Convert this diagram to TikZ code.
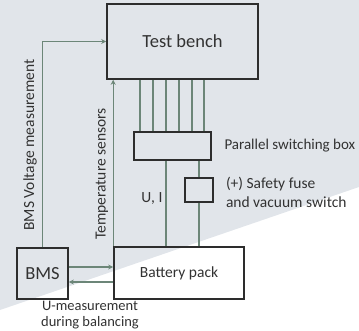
\documentclass[tikz,border=0pt]{standalone}
\usepackage{fontspec}
\setmainfont{Carlito}
\usepackage{xcolor}
\usetikzlibrary{arrows.meta, positioning}
\definecolor{bgshade}{RGB}{225,229,234}
\definecolor{wirecol}{RGB}{108,134,120}
\definecolor{boxcol}{RGB}{45,45,45}
\definecolor{txtcol}{RGB}{50,50,50}

\begin{document}
\begin{tikzpicture}[x=1pt, y=-1pt, >={Stealth[length=5pt,width=5pt]},
        box/.style={rectangle, draw=boxcol, line width=1.6pt, inner sep=0pt, text=txtcol},
        wire/.style={draw=wirecol, line width=1.3pt},
        lbl/.style={font=\fontsize{15.5}{19}\selectfont, text=txtcol, inner sep=0pt, align=left},
        big/.style={font=\fontsize{18.5}{20}\selectfont}]

        % shaded backdrop
        \useasboundingbox (0,0) rectangle (359,331);
        \fill[bgshade] (0,0) -- (359,0) -- (359,187) -- (0,310) -- cycle;

        \node (bench) [box, big, minimum width=151pt, minimum height=75pt] at (182.5,41.5) {Test bench};
        \node (switch) [box, minimum width=77pt, minimum height=28pt] at (172.5,146) {};
        \node (fuse) [box, minimum width=28pt, minimum height=24pt] at (199,190) {};
        \node (pack) [box, lbl, minimum width=130pt, minimum height=52pt, align=center] at (179,273) {Battery pack};
        \node (bms) [box, big, minimum width=51pt, minimum height=51pt] at (42.5,273.5) {BMS};

        \node (switchlbl) [lbl, right=12.5pt of switch, font=\fontsize{15}{19}\selectfont] {Parallel switching box};
        \node (fuselbl) [lbl, right=12pt of fuse, yshift=-2.5pt] {(+) Safety fuse\\and vacuum switch};
        \node (uilbl) [lbl] at (152,199) {U, I};
        \node (ubal) [lbl, align=center, font=\fontsize{14.5}{16}\selectfont] at (90,315) {U-measurement\\during balancing};
        \node (voltlbl) [lbl, rotate=90] at (30,145) {BMS Voltage measurement};
        \node (templbl) [lbl, rotate=90] at (102,174) {Temperature sensors};

        % parallel channels
        \foreach \x in {140,153,166,179,192,204}
            \draw[wire] (bench.south -| \x,0) -- (switch.north -| \x,0);

        \draw[wire] (switch.south -| 166,0) -- (pack.north -| 166,0);
        \draw[wire] (switch.south -| fuse.north) -- (fuse.north);
        \draw[wire] (fuse.south) -- (fuse.south |- pack.north);
        \draw[wire, ->] (pack.north west) -- (bench.south -| pack.north west);
        \draw[wire, ->] (bms.north) |- (bench.west);
        \draw[wire, ->] (bms.east |- 0,267) -- (pack.west |- 0,267);
        \draw[wire, ->] (pack.west |- 0,282) -- (bms.east |- 0,282);
    \end{tikzpicture}
\end{document}
